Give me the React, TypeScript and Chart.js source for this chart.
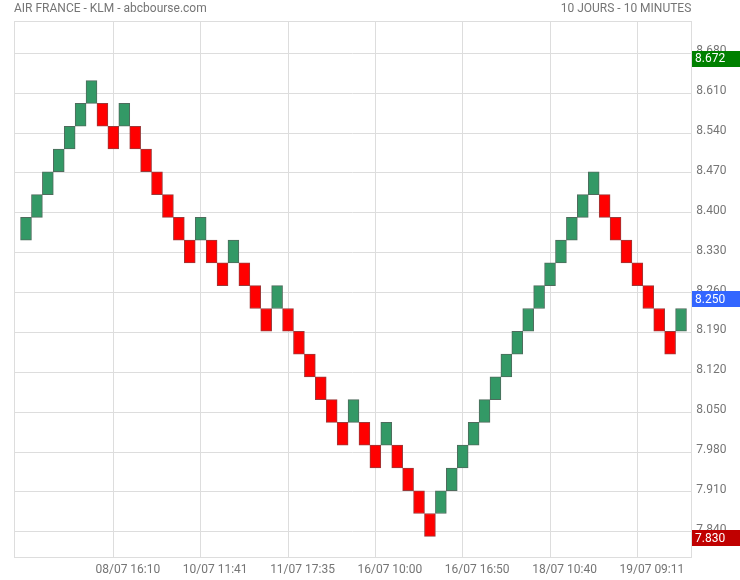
import React, { useEffect, useRef } from 'react';
import { Chart, registerables } from 'chart.js';

Chart.register(...registerables);

const chartTitle = 'AIR FRANCE - KLM - abcbourse.com';
const chartPeriod = '10 JOURS - 10 MINUTES';

// Renko bricks (open / close of each brick, brick size 0.04)
const brickOpen = [
  8.352, 8.392, 8.432, 8.472, 8.512, 8.552, 8.592, 8.592, 8.552, 8.552,
  8.552, 8.512, 8.472, 8.432, 8.392, 8.352, 8.352, 8.352, 8.312, 8.312,
  8.312, 8.272, 8.232, 8.232, 8.232, 8.192, 8.152, 8.112, 8.072, 8.032,
  8.032, 8.032, 7.992, 7.992, 7.992, 7.952, 7.912, 7.872, 7.872, 7.912,
  7.952, 7.992, 8.032, 8.072, 8.112, 8.152, 8.192, 8.232, 8.272, 8.312,
  8.352, 8.392, 8.432, 8.432, 8.392, 8.352, 8.312, 8.272, 8.232, 8.192,
  8.192,
];
const brickClose = [
  8.392, 8.432, 8.472, 8.512, 8.552, 8.592, 8.632, 8.552, 8.512, 8.592,
  8.512, 8.472, 8.432, 8.392, 8.352, 8.312, 8.392, 8.312, 8.272, 8.352,
  8.272, 8.232, 8.192, 8.272, 8.192, 8.152, 8.112, 8.072, 8.032, 7.992,
  8.072, 7.992, 7.952, 8.032, 7.952, 7.912, 7.872, 7.832, 7.912, 7.952,
  7.992, 8.032, 8.072, 8.112, 8.152, 8.192, 8.232, 8.272, 8.312, 8.352,
  8.392, 8.432, 8.472, 8.392, 8.352, 8.312, 8.272, 8.232, 8.192, 8.152,
  8.232,
];

const xTickPos = [8, 16, 24, 32, 40, 48, 56];
const xTickLabels = [
  '08/07 16:10',
  '10/07 11:41',
  '11/07 17:35',
  '16/07 10:00',
  '16/07 16:50',
  '18/07 10:40',
  '19/07 09:11',
];
const yTickValues = [7.84, 7.91, 7.98, 8.05, 8.12, 8.19, 8.26, 8.33, 8.4, 8.47, 8.54, 8.61, 8.68];

const highPrice = 8.672;
const lastPrice = 8.25;
const lowPrice = 7.83;

const Y_MIN = 7.7957;
const Y_MAX = 8.7367;
const X_MIN = -1.1;
const X_MAX = 60.94;

const UP_FILL = '#339966';
const UP_BORDER = '#4f6b5d';
const DOWN_FILL = '#ff0000';
const DOWN_BORDER = '#9a3a3a';
const TEXT = '#757575';
const GRID = '#dddddd';
const FONT = 'Roboto, "Noto Sans", sans-serif';

export default function App() {
  const ref = useRef<HTMLCanvasElement | null>(null);

  useEffect(() => {
    document.body.style.margin = '0';
    const canvas = ref.current;
    if (!canvas) return;

    const decor = {
      id: 'decor',
      beforeDatasetsDraw(chart: any) {
        const { ctx, chartArea } = chart;
        ctx.save();
        ctx.strokeStyle = GRID;
        ctx.lineWidth = 1;
        ctx.strokeRect(
          Math.round(chartArea.left) + 0.5,
          Math.round(chartArea.top) + 0.5,
          Math.round(chartArea.right - chartArea.left),
          Math.round(chartArea.bottom - chartArea.top)
        );
        ctx.restore();
      },
      afterDraw(chart: any) {
        const { ctx, chartArea, scales } = chart;
        ctx.save();
        ctx.font = `12px ${FONT}`;
        ctx.fillStyle = TEXT;
        ctx.textBaseline = 'middle';
        ctx.textAlign = 'left';
        ctx.fillText(chartTitle, chartArea.left, 9);
        ctx.textAlign = 'right';
        ctx.fillText(chartPeriod, chartArea.right, 9);

        const boxes = [
          { v: highPrice, c: '#008000' },
          { v: lastPrice, c: '#3366ff' },
          { v: lowPrice, c: '#c00000' },
        ];
        const x0 = Math.round(chartArea.right) + 1;
        boxes.forEach((b) => {
          const y = scales.y.getPixelForValue(b.v) + 1;
          ctx.fillStyle = b.c;
          ctx.fillRect(x0, Math.round(y - 8), chart.width - x0, 16);
          ctx.fillStyle = '#ffffff';
          ctx.textAlign = 'left';
          ctx.textBaseline = 'middle';
          ctx.fillText(b.v.toFixed(3), x0 + 3, y + 0.5);
        });
        ctx.restore();
      },
    };

    const data = brickOpen.map((o, i) => ({ x: i, y: [o, brickClose[i]] }));
    const isUp = brickOpen.map((o, i) => brickClose[i] > o);

    const chart = new Chart(canvas, {
      type: 'bar',
      data: {
        datasets: [
          {
            data: data as any,
            backgroundColor: isUp.map((u) => (u ? UP_FILL : DOWN_FILL)),
            borderColor: isUp.map((u) => (u ? UP_BORDER : DOWN_BORDER)),
            borderWidth: 1,
            borderSkipped: false,
            barPercentage: 1,
            categoryPercentage: 1,
          },
        ],
      },
      options: {
        responsive: false,
        animation: false,
        events: [],
        layout: { padding: { left: 14, top: 21, right: 0, bottom: 0 } },
        plugins: {
          legend: { display: false },
          tooltip: { enabled: false },
          title: { display: false },
        },
        scales: {
          x: {
            type: 'linear',
            min: X_MIN,
            max: X_MAX,
            bounds: 'data',
            offset: false,
            grid: { color: GRID, drawTicks: false, offset: false },
            border: { display: false },
            afterBuildTicks: (s: any) => {
              s.ticks = xTickPos.map((v) => ({ value: v }));
            },
            afterFit: (s: any) => {
              s.height = 23;
            },
            ticks: {
              autoSkip: false,
              maxRotation: 0,
              minRotation: 0,
              labelOffset: 14.5,
              padding: 6,
              color: TEXT,
              font: { family: FONT, size: 12 },
              callback: (v: any) => {
                const k = xTickPos.indexOf(Number(v));
                return k >= 0 ? xTickLabels[k] : '';
              },
            },
          },
          y: {
            type: 'linear',
            position: 'right',
            min: Y_MIN,
            max: Y_MAX,
            bounds: 'data',
            grid: { color: GRID, drawTicks: false },
            border: { display: false },
            afterBuildTicks: (s: any) => {
              s.ticks = yTickValues.map((v) => ({ value: v }));
            },
            afterFit: (s: any) => {
              s.width = 48.7;
            },
            ticks: {
              padding: 5,
              labelOffset: -2,
              color: TEXT,
              font: { family: FONT, size: 12 },
              callback: (v: any) => Number(v).toFixed(3),
            },
          },
        },
      },
      plugins: [decor],
    });

    return () => chart.destroy();
  }, []);

  return (
    <div style={{ width: 740, height: 580 }}>
      <canvas ref={ref} width={740} height={580} style={{ display: 'block' }} />
    </div>
  );
}
